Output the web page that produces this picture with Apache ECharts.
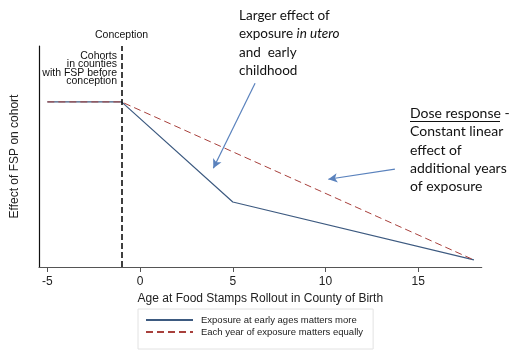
<!DOCTYPE html>
<html><head><meta charset="utf-8">
<script src="https://cdn.jsdelivr.net/npm/echarts@6/dist/echarts.min.js"></script>
<style>html,body{margin:0;padding:0;background:#fff}#c{width:531px;height:361px}</style>
</head><body><div id="c"></div>
<script>
const xTicks = [-5, 0, 5, 10, 15];
const agesEarly = [-5, -1, 5, 18];
const earlyMatters = [74.7, 74.7, 29.4, 3.2];
const agesEqual = [-5, -1, 18];
const equalMatters = [74.7, 74.7, 3.2];
const conceptionAge = -1;
const seriesNames = ['Exposure at early ages matters more', 'Each year of exposure matters equally'];
// annotation arrows (data coords: [fromX, fromY, toX, toY])
const arrows = [[6.2, 83.1, 3.95, 44.7], [13.74, 44.3, 10.15, 39.7]];

const chart = echarts.init(document.getElementById('c'));
const F = 'Liberation Sans, Arial, sans-serif';
const A = 'Lato, sans-serif';
chart.setOption({
  animation: false,
  grid: {left: 39, right: 49.3, top: 46, bottom: 94},
  xAxis: {
    type: 'value', min: -5.45, max: 18.42,
    name: 'Age at Food Stamps Rollout in County of Birth',
    nameLocation: 'middle', nameGap: 22,
    nameTextStyle: {fontFamily: F, fontSize: 12, color: '#222'},
    axisLine: {show: true, onZero: false, lineStyle: {color: '#555', width: 1.2}},
    axisTick: {show: true, length: 5, customValues: xTicks, lineStyle: {color: '#555'}},
    axisLabel: {customValues: xTicks, fontFamily: F, fontSize: 12, color: '#222', margin: 9},
    splitLine: {show: false}
  },
  yAxis: {
    type: 'value', min: 0, max: 100,
    name: 'Effect of FSP on cohort', nameLocation: 'middle', nameGap: 18,
    nameTextStyle: {fontFamily: F, fontSize: 12, color: '#222'},
    axisLine: {show: true, onZero: false, lineStyle: {color: '#111', width: 1.2}},
    axisTick: {show: false}, axisLabel: {show: false}, splitLine: {show: false}
  },
  legend: {
    orient: 'vertical', left: 138, top: 309,
    padding: [6, 10, 12, 7], itemGap: 2, itemWidth: 47, itemHeight: 10,
    borderColor: '#e2e2e2', borderWidth: 1,
    itemStyle: {opacity: 0},
    textStyle: {fontFamily: F, fontSize: 9.5, color: '#222', padding: [0, 0, 0, 3]},
    data: seriesNames
  },
  series: [
    {
      name: seriesNames[0], type: 'line', symbol: 'none',
      data: agesEarly.map((x, i) => [x, earlyMatters[i]]),
      lineStyle: {color: '#3d5a80', width: 1.2}, itemStyle: {color: '#3d5a80'},
      markLine: {
        silent: true, symbol: ['none', 'arrow'], symbolSize: [7, 9],
        lineStyle: {color: '#5a82bd', width: 1.2, type: 'solid'},
        label: {show: false},
        data: arrows.map(a => [{coord: [a[0], a[1]]}, {coord: [a[2], a[3]]}])
      }
    },
    {
      name: seriesNames[1], type: 'line', symbol: 'none',
      data: agesEqual.map((x, i) => [x, equalMatters[i]]),
      lineStyle: {color: '#a8403c', width: 1, type: [7, 4]}, itemStyle: {color: '#a8403c'},
      markLine: {
        silent: true, symbol: ['none', 'none'],
        lineStyle: {color: '#000', width: 1.5, type: [6, 3]},
        label: {show: true, position: 'end', formatter: 'Conception', fontFamily: F, fontSize: 10.5, color: '#111', distance: 5},
        data: [{xAxis: conceptionAge}]
      }
    }
  ],
  graphic: [
    {type: 'text', x: 117, y: 51.5, style: {
      text: 'Cohorts\nin counties\nwith FSP before\nconception', align: 'right',
      font: '10.5px ' + F, fill: '#111', lineHeight: 8.6}},
    {type: 'text', x: 239, y: 6, style: {
      text: 'Larger effect of\n{n|exposure }{i|in utero}\nand  early\nchildhood',
      font: '13.5px ' + A, fill: '#111', lineHeight: 18.6,
      rich: {n: {font: '13.5px ' + A, lineHeight: 18.6}, i: {font: 'italic 13.5px ' + A, lineHeight: 18.6}}}},
    {type: 'text', x: 410, y: 104, style: {
      text: 'Dose response -\nConstant linear\neffect of\nadditional years\nof exposure',
      font: '14px ' + A, fill: '#111', lineHeight: 18.4}},
    {type: 'line', shape: {x1: 410, y1: 121.5, x2: 500, y2: 121.5}, style: {stroke: '#111', lineWidth: 1}}
  ]
});
</script></body></html>
